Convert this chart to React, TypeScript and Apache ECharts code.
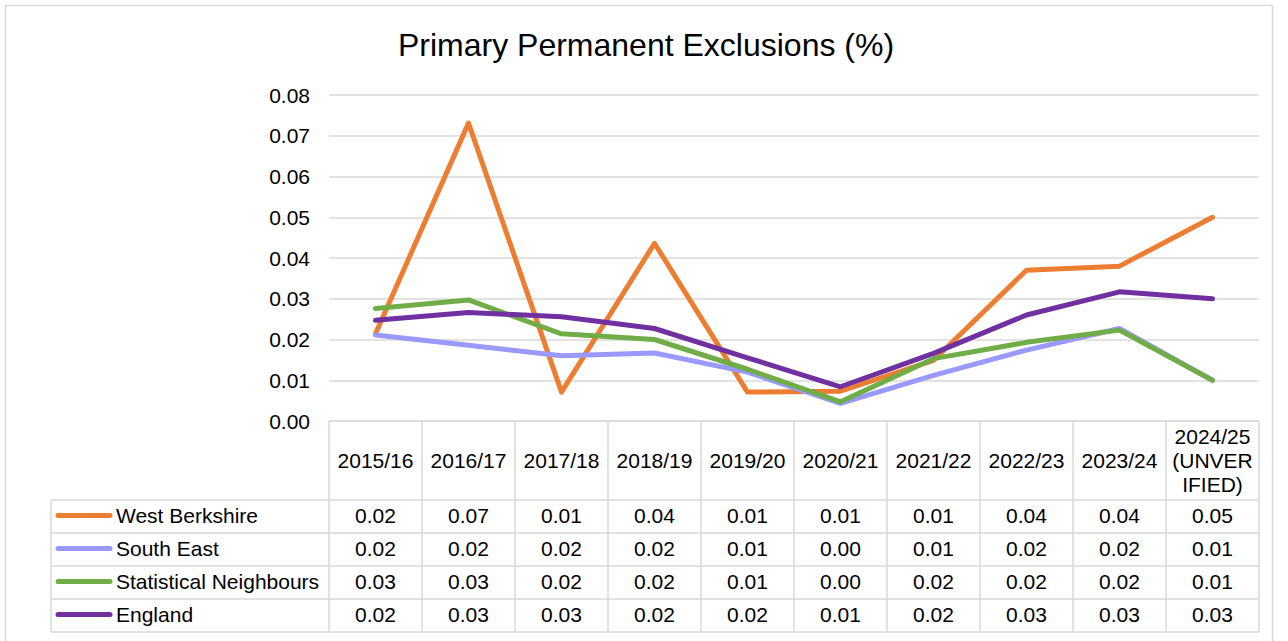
import React, { useEffect, useRef } from "react";
import * as echarts from "echarts";

const categories = [
  "2015/16",
  "2016/17",
  "2017/18",
  "2018/19",
  "2019/20",
  "2020/21",
  "2021/22",
  "2022/23",
  "2023/24",
  "2024/25\n(UNVER\nIFIED)",
];

const seriesNames = ["West Berkshire", "South East", "Statistical Neighbours", "England"];
const seriesColors = ["#ED7D31", "#9999FF", "#70AD47", "#7030A0"];

const westBerkshire = [0.0214, 0.0731, 0.0071, 0.0436, 0.0071, 0.0073, 0.0149, 0.037, 0.038, 0.05];
const southEast = [0.0211, 0.0186, 0.016, 0.0167, 0.012, 0.0043, 0.0112, 0.0174, 0.0227, 0.01];
const statisticalNeighbours = [0.0276, 0.0297, 0.0214, 0.02, 0.0127, 0.0047, 0.0153, 0.0193, 0.0223, 0.01];
const england = [0.0247, 0.0266, 0.0256, 0.0227, 0.0155, 0.0084, 0.0166, 0.026, 0.0317, 0.03];

const yTicks = { min: 0, max: 0.08, interval: 0.01 };

const W = 1288;
const H = 641;
const PLOT_LEFT = 329;
const PLOT_RIGHT = 1259;
const PLOT_TOP = 95;
const PLOT_BOTTOM = 421;
const HEADER_BOTTOM = 500;
const ROW_LINES = [500, 533, 566, 599, 632];
const LEGEND_LEFT = 51;
const FONT = '"Liberation Sans", Arial, sans-serif';
const GRID_COLOR = "#d9d9d9";

export default function App() {
  const ref = useRef<HTMLDivElement>(null);

  useEffect(() => {
    if (!ref.current) return;
    const chart = echarts.init(ref.current, undefined, { renderer: "svg" });
    const allSeries = [westBerkshire, southEast, statisticalNeighbours, england];
    const n = categories.length;
    const catW = (PLOT_RIGHT - PLOT_LEFT) / n;

    const graphics: any[] = [];
    graphics.push({
      type: "rect",
      shape: { x: 5.5, y: 5.5, width: 1267, height: 660 },
      style: { fill: "none", stroke: GRID_COLOR, lineWidth: 1.5 },
      silent: true,
    });
    graphics.push({
      type: "text",
      x: 646,
      y: 45,
      style: {
        text: "Primary Permanent Exclusions (%)",
        font: `32px ${FONT}`,
        fill: "#000",
        align: "center",
        verticalAlign: "middle",
      },
    });
    for (let i = 0; i <= n; i++) {
      const x = PLOT_LEFT + i * catW;
      graphics.push({
        type: "line",
        shape: { x1: x, y1: PLOT_BOTTOM, x2: x, y2: ROW_LINES[ROW_LINES.length - 1] },
        style: { stroke: GRID_COLOR, lineWidth: 1.5 },
      });
    }
    graphics.push({
      type: "line",
      shape: { x1: LEGEND_LEFT, y1: HEADER_BOTTOM, x2: LEGEND_LEFT, y2: ROW_LINES[ROW_LINES.length - 1] },
      style: { stroke: GRID_COLOR, lineWidth: 1.5 },
    });
    graphics.push({
      type: "line",
      shape: { x1: PLOT_LEFT, y1: PLOT_BOTTOM, x2: PLOT_RIGHT, y2: PLOT_BOTTOM },
      style: { stroke: GRID_COLOR, lineWidth: 1.5 },
    });
    ROW_LINES.forEach((y) => {
      graphics.push({
        type: "line",
        shape: { x1: LEGEND_LEFT, y1: y, x2: PLOT_RIGHT, y2: y },
        style: { stroke: GRID_COLOR, lineWidth: 1.5 },
      });
    });
    categories.forEach((c, i) => {
      graphics.push({
        type: "text",
        x: PLOT_LEFT + (i + 0.5) * catW,
        y: (PLOT_BOTTOM + HEADER_BOTTOM) / 2,
        style: {
          text: c,
          font: `21px ${FONT}`,
          lineHeight: 24,
          fill: "#000",
          align: "center",
          verticalAlign: "middle",
        },
      });
    });
    allSeries.forEach((data, r) => {
      const yMid = (ROW_LINES[r] + ROW_LINES[r + 1]) / 2;
      graphics.push({
        type: "line",
        shape: { x1: 58, y1: yMid - 1, x2: 110, y2: yMid - 1 },
        style: { stroke: seriesColors[r], lineWidth: 5, lineCap: "round" },
      });
      graphics.push({
        type: "text",
        x: 116,
        y: yMid - 1,
        style: {
          text: seriesNames[r],
          font: `21px ${FONT}`,
          fill: "#000",
          align: "left",
          verticalAlign: "middle",
        },
      });
      data.forEach((v, i) => {
        graphics.push({
          type: "text",
          x: PLOT_LEFT + (i + 0.5) * catW,
          y: yMid - 1,
          style: {
            text: v.toFixed(2),
            font: `21px ${FONT}`,
            fill: "#000",
            align: "center",
            verticalAlign: "middle",
          },
        });
      });
    });

    chart.setOption({
      animation: false,
      backgroundColor: "#fff",
      grid: {
        left: PLOT_LEFT,
        right: W - PLOT_RIGHT,
        top: PLOT_TOP,
        bottom: H - PLOT_BOTTOM,
        containLabel: false,
      },
      xAxis: {
        type: "category",
        data: categories,
        boundaryGap: true,
        axisLine: { show: false },
        axisTick: { show: false },
        axisLabel: { show: false },
        splitLine: { show: false },
      },
      yAxis: {
        type: "value",
        min: yTicks.min,
        max: yTicks.max,
        interval: yTicks.interval,
        axisLine: { show: false },
        axisTick: { show: false },
        axisLabel: {
          formatter: (v: number) => v.toFixed(2),
          fontFamily: FONT,
          fontSize: 21,
          color: "#000",
          margin: 19,
        },
        splitLine: { lineStyle: { color: GRID_COLOR, width: 1.5 } },
      },
      series: allSeries.map((data, i) => ({
        name: seriesNames[i],
        type: "line",
        data,
        showSymbol: false,
        symbol: "none",
        lineStyle: { color: seriesColors[i], width: 5, cap: "round", join: "round" },
        itemStyle: { color: seriesColors[i] },
        z: 2 + i,
      })),
      graphic: graphics,
    });

    return () => chart.dispose();
  }, []);

  return (
    <div
      ref={ref}
      style={{ position: "fixed", left: 0, top: 0, width: W, height: H, background: "#fff" }}
    />
  );
}
